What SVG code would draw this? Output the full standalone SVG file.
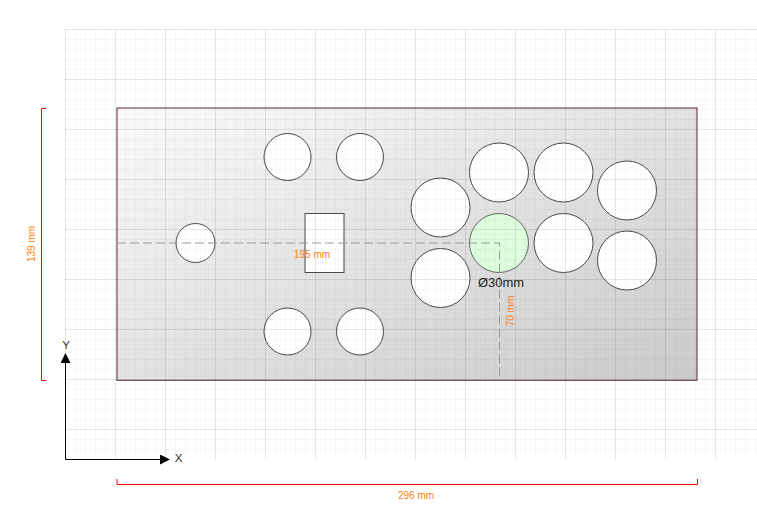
<svg xmlns="http://www.w3.org/2000/svg" width="757" height="516" viewBox="0 0 757 516">
<style>
text{font-family:"Liberation Sans",Arial,sans-serif}
.dim{fill:#ff7f0e;font-size:10px;text-anchor:middle}
.lbl{fill:#333;font-size:11.500px;text-anchor:middle}
.hole{fill:#fff;stroke:#4a4a4a;stroke-width:1}
.br{fill:none;stroke:#f00;stroke-width:1}
.ax{fill:none;stroke:#000;stroke-width:1;}
</style>
<defs>
<pattern id="minor" x="65" y="29" width="10" height="10" patternUnits="userSpaceOnUse"><path d="M.5 0V10M0 .5H10" fill="none" stroke="#000" stroke-opacity=".03"/></pattern>
<pattern id="major" x="65" y="29" width="50" height="50" patternUnits="userSpaceOnUse"><path d="M.5 0V50M0 .5H50" fill="none" stroke="#000" stroke-opacity=".07"/></pattern>
<linearGradient id="plate" x1="0" y1="0" x2="1" y2="1"><stop offset="0" stop-color="#fafafa"/><stop offset="1" stop-color="#cacaca"/></linearGradient>
<marker id="arr" markerUnits="userSpaceOnUse" markerWidth="10" markerHeight="10" refX="9" refY="5" orient="auto"><path d="M0 0L10 5L0 10Z" fill="#000"/></marker>
</defs>
<g id="plate-node"><rect x="117" y="108" width="580" height="272.300" fill="url(#plate)" stroke="#5e2a2a" stroke-width="1"/></g>
<g id="hole-1"><circle class="hole" cx="287.500" cy="157" r="23.500"/></g>
<g id="hole-2"><circle class="hole" cx="360" cy="157" r="23.500"/></g>
<g id="hole-3"><circle class="hole" cx="287.500" cy="331.500" r="23.500"/></g>
<g id="hole-4"><circle class="hole" cx="360" cy="331.500" r="23.500"/></g>
<g id="hole-5"><circle class="hole" cx="195.500" cy="243" r="19.500"/></g>
<g id="slot"><rect class="hole" x="305" y="213.500" width="39" height="59"/></g>
<g id="hole-6"><circle class="hole" cx="440.500" cy="207.500" r="29.500"/></g>
<g id="hole-7"><circle class="hole" cx="440.500" cy="278" r="29.500"/></g>
<g id="hole-8"><circle class="hole" cx="499" cy="172.500" r="29.500"/></g>
<g id="hole-9"><circle cx="499" cy="243" r="29.500" fill="#dcfedc" stroke="#666"/></g>
<g id="hole-10"><circle class="hole" cx="563.500" cy="172.500" r="29.500"/></g>
<g id="hole-11"><circle class="hole" cx="563.500" cy="243" r="29.500"/></g>
<g id="hole-12"><circle class="hole" cx="627" cy="190.500" r="29.500"/></g>
<g id="hole-13"><circle class="hole" cx="627" cy="260.500" r="29.500"/></g>
<g id="grid"><rect x="65" y="29" width="692" height="430" fill="url(#minor)"/><rect x="65" y="29" width="692" height="430" fill="url(#major)"/></g>
<g id="connectors">
<path d="M117 243H499.500V380" fill="none" stroke="#999" stroke-width="1" stroke-dasharray="9 4"/>
<path class="br" d="M46 108.500H41.500V380.500H46"/>
<path class="br" d="M117 479V484.500H697.500V479"/>
<path class="ax" d="M65.500 459.500V354" marker-end="url(#arr)"/>
<path class="ax" d="M65.500 459.500H169" marker-end="url(#arr)"/>
</g>
<g id="labels">
<text class="dim" x="312" y="258">195 mm</text>
<text class="dim" transform="translate(514 311) rotate(-90)">70 mm</text>
<text class="dim" transform="translate(35 244) rotate(-90)">139 mm</text>
<text class="dim" x="416" y="499">296 mm</text>
<text x="501" y="287" fill="#222" font-size="13" text-anchor="middle">Ø30mm</text>
<text class="lbl" x="66" y="349">Y</text>
<text class="lbl" x="178.500" y="462">X</text>
</g>
</svg>
